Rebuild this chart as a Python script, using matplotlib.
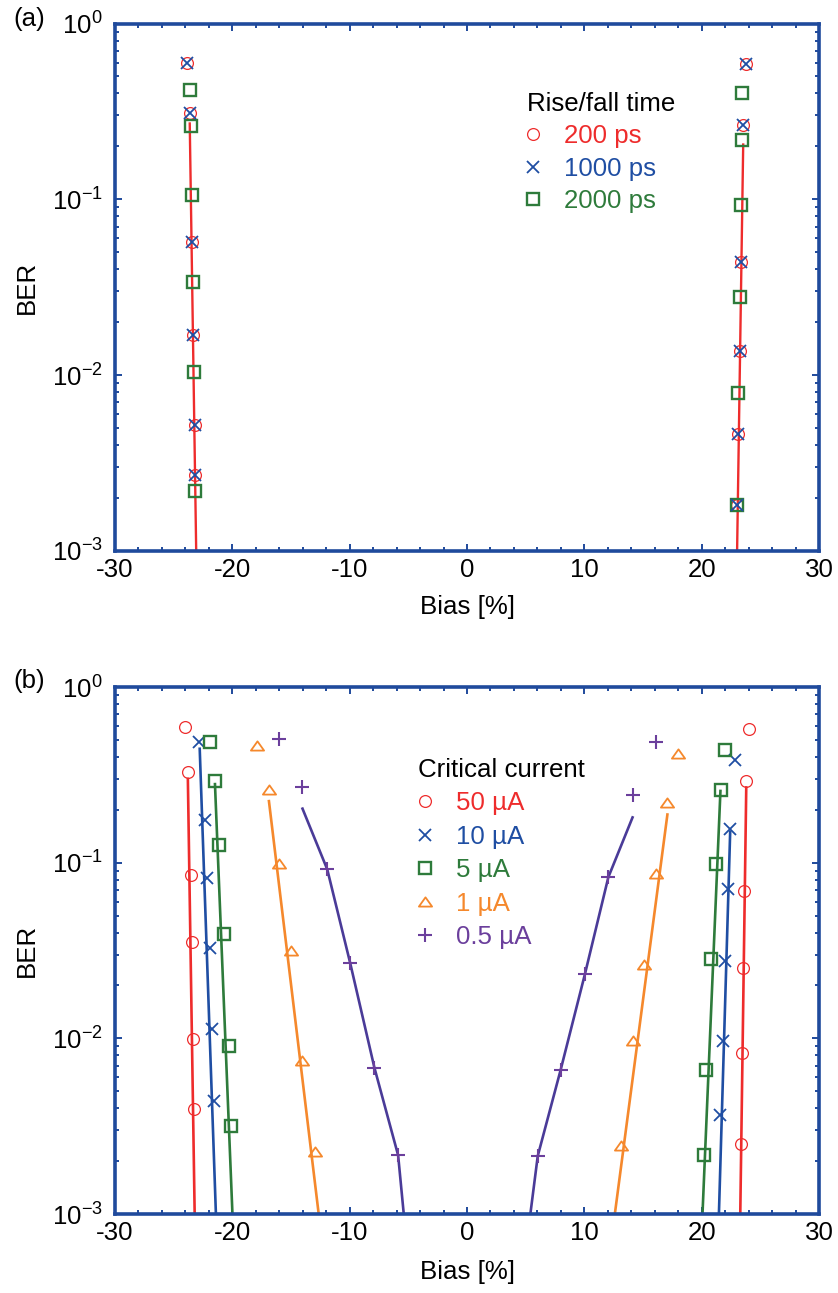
import matplotlib
matplotlib.use('Agg')
import matplotlib.pyplot as plt
from matplotlib.lines import Line2D
from matplotlib.path import Path
from matplotlib.ticker import MultipleLocator, LogLocator, LogFormatterMathtext, NullFormatter

plt.rcParams['font.family'] = ['Liberation Sans', 'DejaVu Sans']
plt.rcParams['mathtext.fontset'] = 'custom'
plt.rcParams['mathtext.rm'] = 'Liberation Sans'
plt.rcParams['mathtext.it'] = 'Liberation Sans:italic'
plt.rcParams['mathtext.bf'] = 'Liberation Sans:bold'
plt.rcParams['axes.unicode_minus'] = False

# ---------------- data: panel (a) rise/fall time ----------------
a_labels = ['200 ps', '1000 ps', '2000 ps']
a200_x = [-23.86, -23.63, -23.42, -23.34, -23.19, -23.14, 23.77, 23.54, 23.34, 23.25, 23.11, 23.05]
a200_y = [0.60, 0.31, 0.057, 0.017, 0.0052, 0.0027, 0.59, 0.266, 0.044, 0.0137, 0.0046, 0.00183]
a1000_x = [-23.86, -23.63, -23.42, -23.34, -23.19, -23.14, 23.77, 23.54, 23.34, 23.25, 23.11, 23.05]
a1000_y = [0.60, 0.31, 0.057, 0.017, 0.0052, 0.0027, 0.59, 0.266, 0.044, 0.0137, 0.0046, 0.00183]
a2000_x = [-23.63, -23.54, -23.42, -23.34, -23.25, -23.14, 23.48, 23.40, 23.31, 23.25, 23.11, 23.05]
a2000_y = [0.42, 0.262, 0.106, 0.034, 0.0104, 0.0022, 0.40, 0.218, 0.093, 0.0278, 0.0079, 0.00183]
# fit lines (200 ps)
afitL_x = [-23.63, -23.08]
afitL_y = [0.27, 0.001]
afitR_x = [23.54, 23.02]
afitR_y = [0.205, 0.001]

# ---------------- data: panel (b) critical current ----------------
b_labels = ['50 \u00b5A', '10 \u00b5A', '5 \u00b5A', '1 \u00b5A', '0.5 \u00b5A']
b50_x = [-24.0, -23.79, -23.53, -23.47, -23.39, -23.29, 24.01, 23.80, 23.63, 23.51, 23.40, 23.32]
b50_y = [0.594, 0.33, 0.0847, 0.0352, 0.00987, 0.00394, 0.574, 0.29, 0.0688, 0.0251, 0.00822, 0.0025]
b10_x = [-22.83, -22.35, -22.12, -21.91, -21.74, -21.54, 22.86, 22.43, 22.22, 21.99, 21.80, 21.57]
b10_y = [0.487, 0.176, 0.082, 0.0327, 0.0113, 0.00438, 0.385, 0.156, 0.0708, 0.0274, 0.00966, 0.00364]
b5_x = [-21.91, -21.48, -21.11, -20.74, -20.31, -20.14, 21.99, 21.62, 21.22, 20.78, 20.41, 20.18]
b5_y = [0.487, 0.292, 0.126, 0.0391, 0.009, 0.00317, 0.436, 0.259, 0.0985, 0.0283, 0.00663, 0.00216]
b1_x = [-17.86, -16.88, -16.03, -14.99, -14.02, -12.98, 17.96, 17.08, 16.08, 15.12, 14.12, 13.11]
b1_y = [0.46, 0.26, 0.098, 0.0316, 0.00746, 0.00224, 0.417, 0.219, 0.0866, 0.0262, 0.00965, 0.00245]
b05_x = [-16.0, -14.02, -11.91, -9.96, -7.89, -5.87, 16.13, 14.11, 12.05, 10.05, 7.97, 6.03]
b05_y = [0.505, 0.268, 0.0916, 0.0269, 0.0068, 0.00216, 0.487, 0.243, 0.0828, 0.0232, 0.00657, 0.00214]

# fit lines, left and right branches (knots)
b50_fitL = ([-23.79, -23.21], [0.30, 0.001])
b50_fitR = ([23.80, 23.29], [0.268, 0.001])
b10_fitL = ([-22.78, -21.40], [0.445, 0.001])
b10_fitR = ([22.43, 21.47], [0.15, 0.001])
b5_fitL = ([-21.48, -19.99], [0.28, 0.001])
b5_fitR = ([21.60, 20.07], [0.256, 0.001])
b1_fitL = ([-16.88, -12.64], [0.224, 0.001])
b1_fitR = ([17.08, 12.60], [0.188, 0.001])
b05_fitL = ([-14.02, -11.91, -9.96, -7.89, -5.87, -5.39], [0.203, 0.0916, 0.0269, 0.0068, 0.00216, 0.001])
b05_fitR = ([14.11, 12.05, 10.05, 7.97, 6.03, 5.40], [0.181, 0.0828, 0.0232, 0.00657, 0.00214, 0.001])

x_ticks = [-30, -20, -10, 0, 10, 20, 30]

# ---------------- styles ----------------
FS = 18.6
SPINE = '#1f4a9c'
RED = '#ee2c2c'
BLUE = '#1f4ea3'
GREEN = '#2e7b3b'
ORANGE = '#f5882c'
PURPLE_L = '#4a3b98'
PURPLE_M = '#6b3f9c'

tri = Path([(-1, -0.62), (1, -0.62), (0, 0.78), (-1, -0.62)],
           [Path.MOVETO, Path.LINETO, Path.LINETO, Path.CLOSEPOLY])

W, H = 838, 1293
fig = plt.figure(figsize=(W / 100, H / 100), dpi=100)
left = 115 / W
width = 704 / W
axA = fig.add_axes([left, 1 - 551 / H, width, 527.5 / H])
axB = fig.add_axes([left, 1 - 1214 / H, width, 527 / H])


def style_axes(ax):
    ax.set_yscale('log')
    ax.set_xlim(-30, 30)
    ax.set_ylim(1e-3, 1)
    ax.set_xticks(x_ticks)
    ax.set_xticklabels([str(v) for v in x_ticks])
    ax.xaxis.set_minor_locator(MultipleLocator(2))
    ax.yaxis.set_major_locator(LogLocator(base=10, numticks=10))
    ax.yaxis.set_minor_locator(LogLocator(base=10, subs=range(2, 10), numticks=20))
    ax.yaxis.set_major_formatter(LogFormatterMathtext())
    ax.yaxis.set_minor_formatter(NullFormatter())
    for s in ax.spines.values():
        s.set_color(SPINE)
        s.set_linewidth(2.6)
    ax.tick_params(which='both', direction='in', top=True, right=True, color=SPINE,
                   width=1.4, labelsize=FS)
    ax.tick_params(which='major', length=5.2)
    ax.tick_params(which='minor', length=2.6)
    ax.tick_params(axis='x', which='major', pad=5)
    ax.tick_params(axis='y', which='major', pad=9)


style_axes(axA)
style_axes(axB)

MS_O, MS_X, MS_S, MS_T, MS_P = 8.5, 9, 8.5, 9.5, 9.5

# ---- panel (a)
axA.plot(afitL_x, afitL_y, color=RED, lw=1.7, zorder=2)
axA.plot(afitR_x, afitR_y, color=RED, lw=1.7, zorder=2)
axA.plot(a200_x, a200_y, ls='none', marker='o', ms=MS_O, mfc='none', mec=RED, mew=0.9, zorder=3)
axA.plot(a1000_x, a1000_y, ls='none', marker='x', ms=MS_X, mec=BLUE, mew=1.3, zorder=4)
axA.plot(a2000_x, a2000_y, ls='none', marker='s', ms=MS_S, mfc='none', mec=GREEN, mew=1.7, zorder=3)

hA = [Line2D([], [], ls='none', marker='o', ms=MS_O, mfc='none', mec=RED, mew=0.9),
      Line2D([], [], ls='none', marker='x', ms=MS_X, mec=BLUE, mew=1.3),
      Line2D([], [], ls='none', marker='s', ms=MS_S, mfc='none', mec=GREEN, mew=1.7)]
legA = axA.legend(hA, a_labels, loc='upper left', bbox_to_anchor=(0.585, 0.871),
                  frameon=False, fontsize=FS, title='Rise/fall time', title_fontsize=FS,
                  alignment='left', labelcolor=[RED, BLUE, GREEN], handlelength=0.51,
                  handletextpad=0.94, borderpad=0, borderaxespad=0, labelspacing=0.33,
                  numpoints=1)

# ---- panel (b)
series = [
    (b50_x, b50_y, b50_fitL, b50_fitR, RED, RED, 'o', MS_O, 0.9),
    (b10_x, b10_y, b10_fitL, b10_fitR, BLUE, BLUE, 'x', MS_X, 1.3),
    (b5_x, b5_y, b5_fitL, b5_fitR, GREEN, GREEN, 's', MS_S, 1.7),
    (b1_x, b1_y, b1_fitL, b1_fitR, ORANGE, ORANGE, tri, MS_T, 1.3),
    (b05_x, b05_y, b05_fitL, b05_fitR, PURPLE_L, PURPLE_M, '+', MS_P, 1.5),
]
handlesB = []
for xs, ys, fL, fR, lc, mc, mk, ms, mew in series:
    axB.plot(fL[0], fL[1], color=lc, lw=1.9, zorder=2, solid_joinstyle='round')
    axB.plot(fR[0], fR[1], color=lc, lw=1.9, zorder=2, solid_joinstyle='round')
    axB.plot(xs, ys, ls='none', marker=mk, ms=ms, mfc='none', mec=mc, mew=mew, zorder=3)
    handlesB.append(Line2D([], [], ls='none', marker=mk, ms=ms, mfc='none', mec=mc, mew=mew))

legB = axB.legend(handlesB, b_labels, loc='upper left', bbox_to_anchor=(0.431, 0.866),
                  frameon=False, fontsize=FS, title='Critical current', title_fontsize=FS,
                  alignment='left', labelcolor=[RED, BLUE, GREEN, ORANGE, PURPLE_M],
                  handlelength=0.51, handletextpad=0.94, borderpad=0, borderaxespad=0,
                  labelspacing=0.37, numpoints=1)

# ---- labels
fig.text(27 / W, 1 - 287 / H, 'BER', rotation=90, ha='center', va='center', fontsize=FS)
fig.text(27 / W, 1 - 950 / H, 'BER', rotation=90, ha='center', va='center', fontsize=FS)
fig.text((115 + 352) / W, 1 - 607 / H, 'Bias [%]', ha='center', va='center', fontsize=FS)
fig.text((115 + 352) / W, 1 - 1272 / H, 'Bias [%]', ha='center', va='center', fontsize=FS)
fig.text(29 / W, 1 - 19 / H, '(a)', ha='center', va='center', fontsize=FS)
fig.text(29 / W, 1 - 681 / H, '(b)', ha='center', va='center', fontsize=FS)

fig.savefig('out.png', dpi=100)
